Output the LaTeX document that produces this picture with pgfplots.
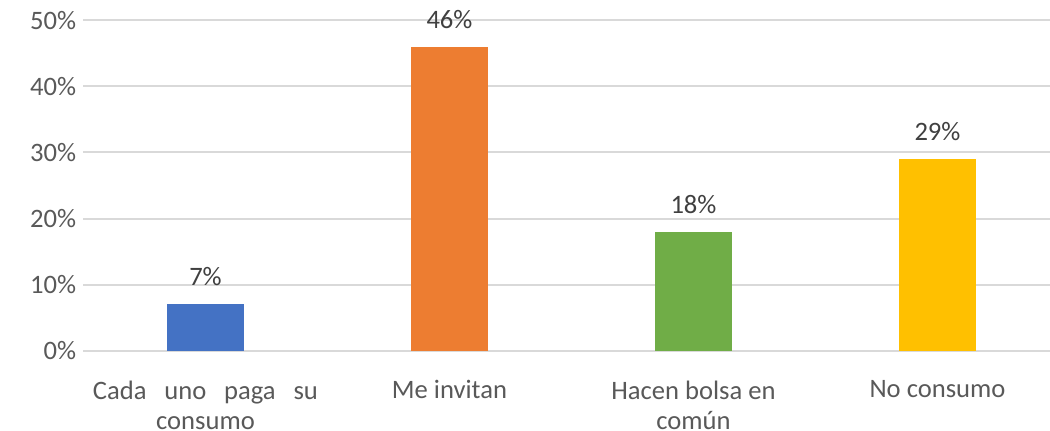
\documentclass[border=0pt]{standalone}
\usepackage{fontspec}
\setmainfont{Carlito}
\usepackage{pgfplots}
\pgfplotsset{compat=1.18}

\definecolor{cBlue}{HTML}{4472C4}
\definecolor{cOrange}{HTML}{ED7D31}
\definecolor{cGreen}{HTML}{70AD47}
\definecolor{cYellow}{HTML}{FFC000}
\definecolor{tickgray}{HTML}{595959}
\definecolor{labgray}{HTML}{404040}
\definecolor{gridgray}{HTML}{D9D9D9}

\begin{document}
\begin{tikzpicture}
\path[use as bounding box] (-41.75pt,-39.65pt) rectangle (483.25pt,175.35pt);
\begin{axis}[
    at={(0,0)}, anchor=south west,
    scale only axis,
    width=488pt, height=165.25pt,
    ybar, bar width=38.5pt, bar shift=0pt,
    xmin=-0.5, xmax=3.5,
    ymin=0, ymax=50,
    axis line style={draw=none},
    ymajorgrids,
    major grid style={draw=gridgray, line width=1pt},
    ytick={0,10,20,30,40,50},
    yticklabels={0\%,10\%,20\%,30\%,40\%,50\%},
    xtick={0,1,2,3},
    xticklabels={
        {\makebox[112.5pt][s]{Cada uno paga su}\\consumo},
        {Me invitan},
        {Hacen bolsa en\\común},
        {No consumo}},
    tick style={draw=none},
    yticklabel style={font=\fontsize{13.3}{14.6}\selectfont, text=tickgray, inner sep=0pt, xshift=-3.5pt},
    xticklabel style={font=\fontsize{13.3}{15}\selectfont, text=tickgray, align=center, anchor=north, inner sep=0pt, yshift=-10.5pt},
    /pgf/number format/assume math mode=true,
    nodes near coords={\pgfmathprintnumber{\pgfplotspointmeta}\%},
    every node near coord/.append style={font=\fontsize{13.3}{14.6}\selectfont, text=labgray, anchor=south, inner sep=0pt, yshift=9pt},
    clip=false,
]
\addplot[fill=cBlue, draw=none] coordinates {(0,7)};
\addplot[fill=cOrange, draw=none] coordinates {(1,46)};
\addplot[fill=cGreen, draw=none] coordinates {(2,18)};
\addplot[fill=cYellow, draw=none] coordinates {(3,29)};
\end{axis}
\end{tikzpicture}
\end{document}
